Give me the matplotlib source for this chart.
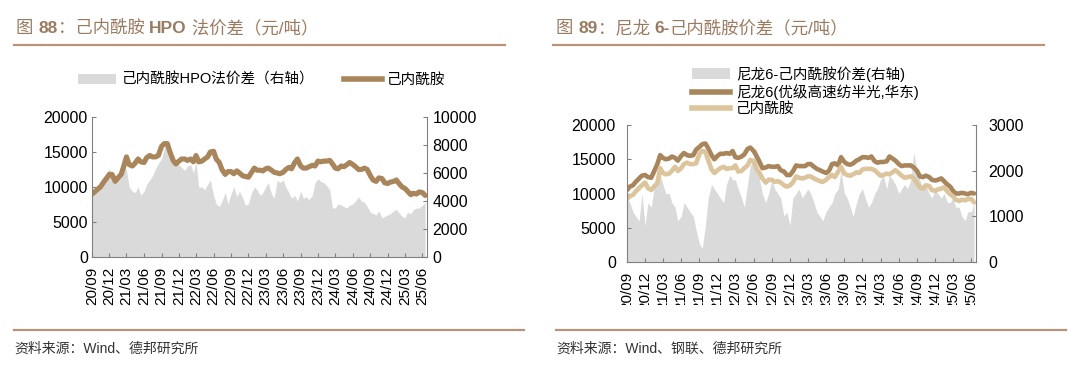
import numpy as np
import pandas as pd
import matplotlib
matplotlib.use('Agg')
import matplotlib.pyplot as plt
from matplotlib.patches import Patch
from matplotlib.lines import Line2D
from matplotlib.transforms import Bbox, TransformedBbox

plt.rcParams['font.family'] = ['Liberation Sans', 'Noto Sans CJK SC', 'DejaVu Sans']

# ---- данные (полумесячные точки, 2020-09 .. 2025-06) ----
dates = pd.date_range('2020-09-01', periods=116, freq='SMS')
x_end = pd.Timestamp('2025-06-25')
tick_dates = pd.date_range('2020-09-01', '2025-06-01', freq='3MS')
tick_labels = [d.strftime('%y/%m') for d in tick_dates]

# рис. 88: цена капролактама (левая ось) и спред HPO (правая ось)
cpl_left = [
    9000, 9300, 9700, 10000, 10700, 11200, 11800, 11800,
    10800, 11300, 11800, 13000, 14300, 13200, 13000, 13400, 14000, 13600, 13500, 14200,
    14500, 14300, 14300, 14500, 15800, 16200, 16200, 15000, 13800, 13300, 13700, 14000,
    14000, 13800, 14000, 13600, 14500, 13600, 13700, 14000, 14300, 15000, 15100, 14000,
    13500, 12500, 11800, 12200, 12200, 11900, 12300, 12000, 11600, 11500, 11400, 12000,
    12700, 12400, 12400, 12300, 12600, 12700, 12400, 12100, 12000, 11900, 12100, 12500,
    12800, 12600, 13500, 14000, 13000, 12700, 12700, 12900, 13100, 13000, 13700, 13600,
    13700, 13700, 13800, 13300, 12700, 12600, 13000, 12900, 13200, 13500, 13200, 12900,
    12500, 12500, 12700, 12500, 11600, 11000, 10800, 11300, 11200, 10600, 10500, 10700,
    10800, 11000, 10400, 10000, 9800, 9400, 8900, 9100, 9000, 9300, 9200, 8800,
]
hpo_spread = [
    4500, 4900, 5100, 5300, 5500, 6000, 6300, 5800,
    5200, 5400, 6000, 6800, 6200, 5000, 4700, 4600, 5000, 4400, 4700, 5200,
    5500, 5800, 6300, 6700, 7000, 7800, 8100, 7600, 7200, 6800, 6600, 6400,
    6200, 6500, 6600, 6000, 6800, 5000, 5000, 4800, 5200, 5500, 4400, 3800,
    3600, 4000, 4600, 3800, 4500, 5000, 4300, 4700, 4200, 3700, 3800, 4500,
    5000, 4800, 4400, 4600, 5000, 5300, 4500, 4200, 5500, 5300, 5500, 5000,
    4600, 4200, 4400, 4000, 4700, 4200, 4300, 4100, 4400, 5300, 5600, 5400,
    5300, 5100, 4800, 3500, 3500, 3800, 3700, 3600, 3500, 3700, 3800, 4000,
    4300, 4000, 3900, 3600, 3200, 3100, 3000, 3300, 2800, 2900, 3000, 3100,
    3300, 3400, 3100, 2900, 2800, 3200, 3100, 3400, 3500, 3500, 3700, 3900,
]

# рис. 89: нейлон 6, капролактам (левая ось), спред (правая ось)
pa6_price = [
    10500, 11000, 11200, 11700, 12200, 12600, 12700, 12400,
    12300, 13200, 14300, 15600, 15200, 15000, 15100, 15400, 15200, 14800, 15500, 15900,
    15600, 15500, 15600, 16400, 16800, 17200, 17300, 16600, 15600, 15000, 15500, 15800,
    15800, 15900, 15800, 16200, 15300, 15200, 15400, 15700, 16500, 16700, 16200, 15500,
    14600, 13700, 13800, 14000, 13900, 13900, 14000, 13400, 13200, 12700, 12700, 13200,
    14100, 14000, 14000, 14000, 14300, 14300, 13900, 13600, 13400, 13200, 13000, 13300,
    14300, 14400, 14100, 15300, 14600, 14300, 14200, 14400, 14800, 15000, 15300, 15300,
    15200, 15400, 14700, 14500, 14600, 14600, 14700, 15400, 15100, 14800, 14300, 14000,
    14100, 14100, 14100, 13800, 13300, 12500, 12400, 12600, 12400, 12000, 11900, 12000,
    12200, 11800, 11300, 11000, 10400, 10000, 10000, 10100, 10000, 9900, 10100, 10000,
]
cpl_right = [
    9200, 9600, 9800, 10300, 10800, 11200, 11600, 10800,
    10500, 11000, 11500, 13700, 13000, 12800, 12900, 13300, 13900, 13300, 13700, 14300,
    14500, 14300, 14300, 14400, 15800, 16200, 16100, 14900, 13500, 13000, 13400, 13700,
    13900, 13600, 13700, 13700, 14100, 13200, 13300, 13700, 14100, 14900, 14700, 13600,
    13000, 12200, 11600, 12000, 12000, 11700, 11800, 11600, 11200, 11000, 11200, 11600,
    12500, 12300, 12200, 12300, 12500, 12500, 12200, 12000, 11800, 11700, 12000, 12400,
    12700, 12400, 13200, 13900, 12900, 12700, 12600, 12800, 13100, 13000, 13500, 13600,
    13600, 13600, 13400, 13000, 12600, 12700, 12900, 12800, 13100, 13400, 13000, 12600,
    12300, 12400, 12500, 12200, 11500, 10900, 10700, 11200, 11100, 10500, 10400, 10600,
    10700, 10900, 10300, 9900, 9600, 9100, 8900, 9100, 9000, 9200, 9200, 8700,
]
pa6_spread = [
    1400, 1300, 1100, 1000, 900, 1500, 800, 1300,
    1200, 1600, 1800, 1900, 1700, 1500, 1500, 1300, 1200, 900, 1000, 1300,
    1200, 1100, 1000, 700, 400, 300, 800, 1400, 1700, 1600, 1500, 1400,
    1300, 1700, 1900, 1800, 1800, 1600, 1400, 1200, 1700, 2100, 2300, 2500,
    1800, 1500, 1300, 1500, 1800, 1600, 1500, 1400, 1000, 1100, 800, 1400,
    1500, 1600, 1400, 1500, 1600, 1500, 1300, 1100, 1000, 900, 1100, 1200,
    1300, 1500, 1600, 2000, 1500, 1400, 1200, 1000, 1300, 1500, 1600, 1400,
    1200, 1300, 1500, 1600, 1800, 1900, 1600, 1900, 1800, 1700, 1500, 1600,
    1700, 1600, 1800, 2400, 2000, 1800, 1600, 1700, 1500, 1400, 1600, 1500,
    1400, 1500, 1300, 1300, 1400, 1200, 1200, 1000, 900, 1100, 1100, 1300,
]

BROWN = '#A9855B'
TAN = '#DCC49C'
GRAY = '#DADADA'
TITLE_C = '#9B7B60'
RULE_C = '#B8937A'
SPINE_C = '#808080'
TICK_FS = 11.5

W, H = 1080, 374
fig = plt.figure(figsize=(W / 100, H / 100), dpi=100)


def px_axes(x0, y0, x1, y1):
    return fig.add_axes([x0 / W, 1 - y1 / H, (x1 - x0) / W, (y1 - y0) / H])


def style_pair(ax, axr, ypad, rpad):
    ax.set_zorder(axr.get_zorder() + 1)
    ax.patch.set_visible(False)
    ax.set_xlim(dates[0], x_end)
    ax.set_xticks(tick_dates)
    ax.set_xticklabels(tick_labels, rotation=90)
    for a in (ax, axr):
        for s in a.spines.values():
            s.set_color(SPINE_C)
            s.set_linewidth(0.8)
        a.spines['top'].set_visible(False)
    ax.spines['right'].set_visible(False)
    axr.spines['left'].set_visible(False)
    axr.spines['bottom'].set_visible(False)
    ax.tick_params(axis='y', direction='in', length=3, color=SPINE_C, labelsize=TICK_FS, pad=ypad)
    ax.tick_params(axis='x', direction='in', length=3, color=SPINE_C, labelsize=11, pad=7)
    axr.tick_params(axis='y', direction='in', length=3, color=SPINE_C, labelsize=TICK_FS, pad=rpad)


# ---- рис. 88 ----
ax1 = px_axes(92, 117, 427, 257)
ax1r = ax1.twinx()
ax1r.fill_between(dates, 0, hpo_spread, color=GRAY, lw=0)
ax1.plot(dates, cpl_left, color=BROWN, lw=3.7, solid_capstyle='round')
ax1.set_ylim(0, 20000)
ax1.set_yticks(np.arange(0, 20001, 5000))
ax1r.set_ylim(0, 10000)
ax1r.set_yticks(np.arange(0, 10001, 2000))
style_pair(ax1, ax1r, 3, 4)

# ---- рис. 89 ----
ax2 = px_axes(627, 125, 976, 262)
ax2r = ax2.twinx()
ax2r.fill_between(dates, 0, pa6_spread, color=GRAY, lw=0)
ax2.plot(dates, pa6_price, color=BROWN, lw=3.3, solid_capstyle='round')
ax2.plot(dates, cpl_right, color=TAN, lw=3.3, solid_capstyle='round')
ax2.set_ylim(0, 20000)
ax2.set_yticks(np.arange(0, 20001, 5000))
ax2r.set_ylim(0, 3000)
ax2r.set_yticks(np.arange(0, 3001, 1000))
style_pair(ax2, ax2r, 8, 9)

# заголовки: куски текста ставим друг за другом (цифры и латиница жирные)
renderer = fig.canvas.get_renderer()


def rich_title(x, y, parts):
    cur = x
    for s, w in parts:
        t = fig.text(cur / W, 1 - y / H, s, fontweight=w, fontsize=12.5,
                     color=TITLE_C, va='baseline', ha='left')
        cur += t.get_window_extent(renderer).width


rich_title(16, 33, [('图 ', 'normal'), ('88', 'bold'), ('：己内酰胺 ', 'normal'),
                    ('HPO', 'bold'), (' 法价差（元/吨）', 'normal')])
rich_title(556, 33, [('图 ', 'normal'), ('89', 'bold'), ('：尼龙 ', 'normal'),
                     ('6-', 'bold'), ('己内酰胺价差（元/吨）', 'normal')])

for x0, x1 in [(14, 505), (553, 1044)]:
    fig.add_artist(Line2D([x0 / W, x1 / W], [1 - 45 / H] * 2, color=RULE_C, lw=1.6))
for x0, x1 in [(14, 524), (556, 1066)]:
    fig.add_artist(Line2D([x0 / W, x1 / W], [1 - 330 / H] * 2, color=RULE_C, lw=1.6))
fig.text(14 / W, 1 - 349 / H, '资料来源：Wind、德邦研究所', fontsize=10, color='#333333', va='center')
fig.text(556 / W, 1 - 349 / H, '资料来源：Wind、钢联、德邦研究所', fontsize=10, color='#333333', va='center')

# легенды
h1 = [Patch(facecolor=GRAY, edgecolor='none'), Line2D([], [], color=BROWN, lw=4)]
fig.legend(h1, ['己内酰胺HPO法价差（右轴）', '己内酰胺'], loc='center',
           bbox_to_anchor=(262 / W, 1 - 80 / H), ncol=2, frameon=False, fontsize=10.5,
           handlelength=2.6, handletextpad=0.4, columnspacing=2.0, borderpad=0)
h2 = [Patch(facecolor=GRAY, edgecolor='none'), Line2D([], [], color=BROWN, lw=4),
      Line2D([], [], color=TAN, lw=4)]
fig.legend(h2, ['尼龙6-己内酰胺价差(右轴)', '尼龙6(优级高速纺半光,华东)', '己内酰胺'],
           loc='upper left', bbox_to_anchor=(692 / W, 1 - 66 / H), ncol=1, frameon=False,
           fontsize=10.5, handlelength=2.6, handletextpad=0.4, labelspacing=0.15,
           borderpad=0, borderaxespad=0)

# подписи оси X справа обрезаны снизу, как в оригинале
fig.canvas.draw()
clip = TransformedBbox(Bbox([[0, 1 - 305 / H], [1, 1]]), fig.transFigure)
for lab in ax2.get_xticklabels():
    lab.set_clip_on(True)
    lab.set_clip_box(clip)

fig.savefig('out.png', dpi=100)
